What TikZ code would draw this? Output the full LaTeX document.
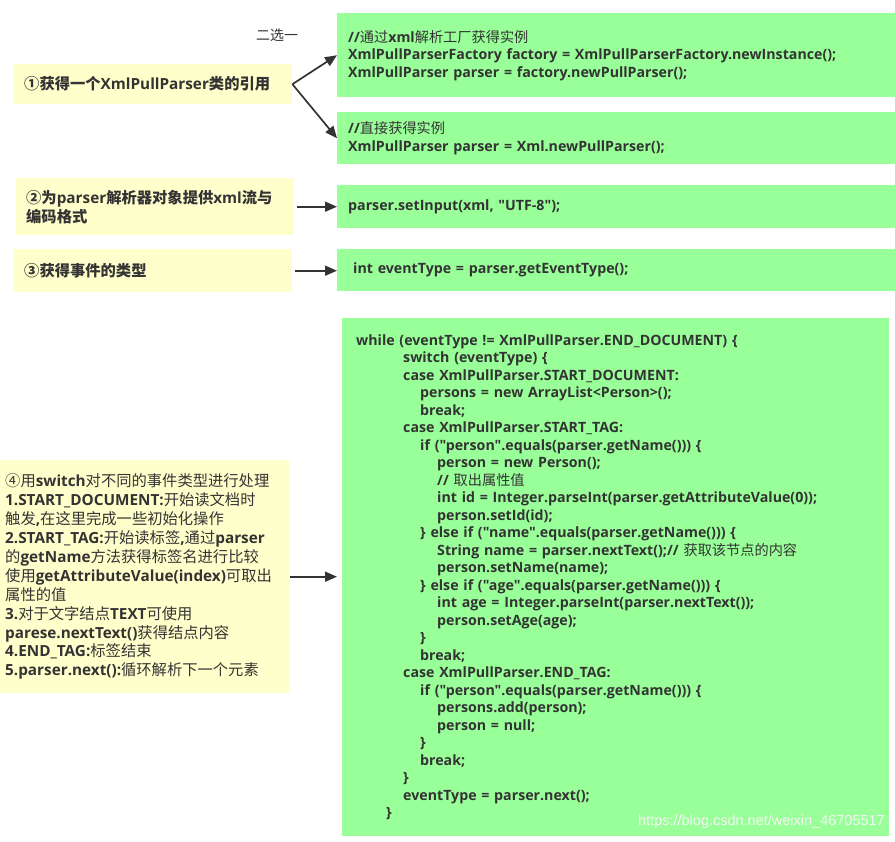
\documentclass[tikz,border=0pt]{standalone}
\usepackage{fontspec}
\usetikzlibrary{arrows.meta}
\setmainfont{Open Sans}[Ligatures=TeXOff]
\newfontfamily\zhfont{Noto Sans CJK SC}
\newfontfamily\wmfont{Liberation Sans}
\newcommand\zb[1]{{\zhfont\bfseries #1}}
\newcommand\zr[1]{{\zhfont\mdseries #1}}
\newcommand\ind[1]{\hspace*{#1pt}}
\definecolor{yfill}{HTML}{FFFFCC}
\definecolor{gfill}{HTML}{99FF99}
\definecolor{txt}{HTML}{333333}
\definecolor{arr}{HTML}{333333}
\tikzset{
  ybox/.style={fill=yfill, anchor=north west, inner ysep=0pt, inner xsep=10pt, align=left, text=txt,
    font=\fontsize{15.3}{19}\selectfont\bfseries},
  gbox/.style={fill=gfill, anchor=north west, inner ysep=0pt, inner xsep=11pt, align=left, text=txt,
    font=\fontsize{14.2}{17.5}\selectfont\bfseries},
  conn/.style={draw=arr, line width=1.7pt, -{Triangle[length=12pt,width=10pt]}}
}
\begin{document}
\begin{tikzpicture}[x=1pt,y=-1pt]
\useasboundingbox (0,0) rectangle (895,842);
% left boxes
\node[ybox, text width=258pt, minimum height=40pt] (y1) at (14,64)
  {\zb{①获得一个}XmlPullParser\zb{类的引用}};
\node[ybox, text width=258pt, minimum height=57pt] (y2) at (16,178)
  {\zb{②为}parser\zb{解析器对象提供}xml\zb{流与}\\\zb{编码格式}};
\node[ybox, text width=258pt, minimum height=43pt] (y3) at (14,249)
  {\zb{③获得事件的类型}};
\node[ybox, inner xsep=5pt, text width=279pt, minimum height=233pt,
      font=\fontsize{15.3}{18.9}\selectfont\bfseries] (y4) at (0,460)
  {\zr{④用}switch\zr{对不同的事件类型进行处理}\\
   1.START\_DOCUMENT:\zr{开始读文档时}\\
   \zr{触发},\zr{在这里完成一些初始化操作}\\
   2.START\_TAG:\zr{开始读标签},\zr{通过}parser\\
   \zr{的}getName\zr{方法获得标签名进行比较}\\
   \zr{使用}getAttributeValue(index)\zr{可取出}\\
   \zr{属性的值}\\
   3.\zr{对于文字结点}TEXT\zr{可使用}\\
   parese.nextText()\zr{获得结点内容}\\
   4.END\_TAG:\zr{标签结束}\\
   5.parser.next():\zr{循环解析下一个元素}};
% right boxes
\node[gbox, text width=536pt, minimum height=84pt] (g1) at (337,13)
  {//\zr{通过}xml\zr{解析工厂获得实例}\\
   XmlPullParserFactory factory = XmlPullParserFactory.newInstance();\\
   XmlPullParser parser = factory.newPullParser();};
\node[gbox, text width=536pt, minimum height=52pt] (g2) at (337,112)
  {//\zr{直接获得实例}\\
   XmlPullParser parser = Xml.newPullParser();};
\node[gbox, text width=536pt, minimum height=43pt] (g3) at (337,185)
  {parser.setInput(xml, "UTF-8");};
\node[gbox, inner xsep=16pt, text width=526pt, minimum height=42pt] (g4) at (337,249)
  {int eventType = parser.getEventType();};
\node[gbox, inner xsep=14pt, text width=519pt, minimum height=518pt] (gb) at (342,318)
  {while (eventType != XmlPullParser.END\_DOCUMENT) \{\\
   \ind{47}switch (eventType) \{\\
   \ind{47}case XmlPullParser.START\_DOCUMENT:\\
   \ind{64}persons = new ArrayList<Person>();\\
   \ind{64}break;\\
   \ind{47}case XmlPullParser.START\_TAG:\\
   \ind{64}if ("person".equals(parser.getName())) \{\\
   \ind{81}person = new Person();\\
   \ind{81}// \zr{取出属性值}\\
   \ind{81}int id = Integer.parseInt(parser.getAttributeValue(0));\\
   \ind{81}person.setId(id);\\
   \ind{64}\} else if ("name".equals(parser.getName())) \{\\
   \ind{81}String name = parser.nextText();// \zr{获取该节点的内容}\\
   \ind{81}person.setName(name);\\
   \ind{64}\} else if ("age".equals(parser.getName())) \{\\
   \ind{81}int age = Integer.parseInt(parser.nextText());\\
   \ind{81}person.setAge(age);\\
   \ind{64}\}\\
   \ind{64}break;\\
   \ind{47}case XmlPullParser.END\_TAG:\\
   \ind{64}if ("person".equals(parser.getName())) \{\\
   \ind{81}persons.add(person);\\
   \ind{81}person = null;\\
   \ind{64}\}\\
   \ind{64}break;\\
   \ind{47}\}\\
   \ind{47}eventType = parser.next();\\
   \ind{30}\}};
% labels
\node[text=txt, font=\fontsize{14}{16}\selectfont\zhfont, inner sep=0pt] (choose) at (277,35) {二选一};
\node[text=white!92!gray, font=\fontsize{14.5}{16}\selectfont\wmfont, anchor=east, inner sep=0pt] (wm) at (885,822)
  {https://blog.csdn.net/weixin\_46705517};
% connectors
\draw[conn] (y1.east) -- (g1.west);
\draw[conn] (y1.east) -- (g2.west);
\draw[conn, shorten <=3pt] (y2.east) -- (y2.east -| g3.west);
\draw[conn, shorten <=3pt] (y3.east) -- (y3.east -| g4.west);
\draw[conn, shorten <=1pt, shorten >=5pt] (y4.east) -- (y4.east -| gb.west);
\end{tikzpicture}
\end{document}
